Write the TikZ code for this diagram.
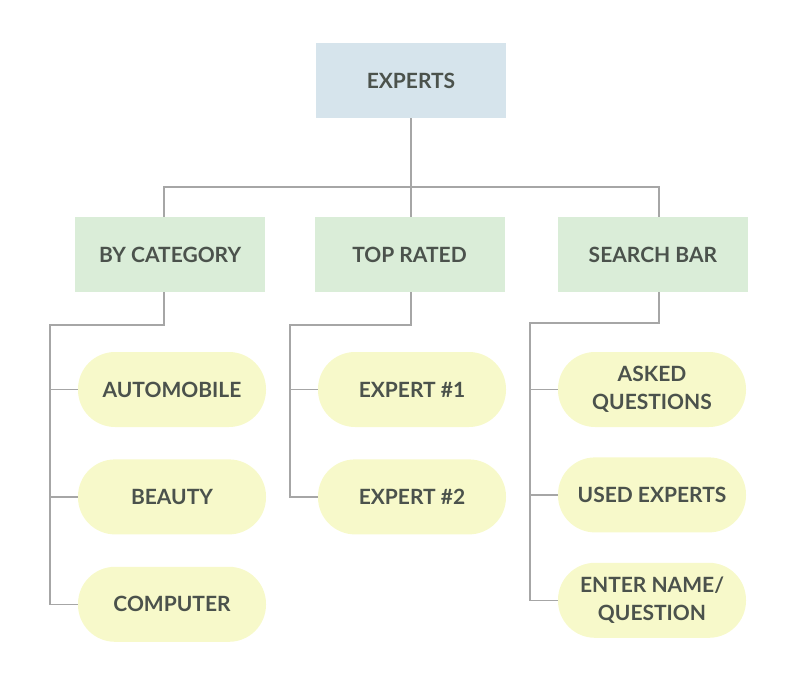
\documentclass[tikz,border=0pt]{standalone}
\usepackage{fontspec}
\setsansfont{Lato}
\usetikzlibrary{positioning, calc}
\definecolor{cblue}{HTML}{D6E4EC}
\definecolor{cgreen}{HTML}{DAEDD8}
\definecolor{cyellow}{HTML}{F7F9CA}
\definecolor{ctext}{HTML}{4B524C}
\definecolor{cline}{HTML}{A6A6A6}
\tikzset{
  every picture/.style={font=\sffamily\bfseries\fontsize{21}{28}\selectfont},
  box/.style={fill=#1, text=ctext, align=center, minimum width=190pt, minimum height=75pt, inner sep=0pt},
  box/.default=cgreen,
  pill/.style={fill=cyellow, text=ctext, align=center, rounded corners=37pt, minimum width=188pt, minimum height=75pt, inner sep=0pt},
  link/.style={draw=cline, line width=1.5pt},
}
\begin{document}
\begin{tikzpicture}[x=1pt, y=-1pt]
  \useasboundingbox (0,0) rectangle (804,696);
  % top
  \node[box=cblue] (root) at (411,80.5) {EXPERTS};
  % second row
  \node[box] (top) at (409.5,254.5) {TOP RATED};
  \node[box, left=49pt of top] (cat) {BY CATEGORY};
  \node[box, right=53pt of top] (search) {SEARCH BAR};
  % leaves
  \node[pill] (auto) at (172,389.5) {AUTOMOBILE};
  \node[pill, below=32pt of auto] (beauty) {BEAUTY};
  \node[pill, below=32pt of beauty] (comp) {COMPUTER};
  \node[pill] (exp1) at (412,389.5) {EXPERT \#1};
  \node[pill, below=32pt of exp1] (exp2) {EXPERT \#2};
  \node[pill] (asked) at (652,389.5) {ASKED\\QUESTIONS};
  \node[pill, below=30pt of asked] (used) {USED EXPERTS};
  \node[pill, below=30pt of used] (enter) {ENTER NAME/\\QUESTION};

  \coordinate (bus) at (411,187);
  \draw[link] (root.south) -- ([xshift=1.5pt]top.north);
  \draw[link] ([xshift=-6pt]cat.north) |- (bus) -| ([xshift=6pt]search.north);

  \draw[link] ([xshift=-6pt]cat.south) -- ++(0,33) -| ([xshift=-28pt]comp.west) -- (comp.west);
  \draw[link] (auto.west) -- ++(-28,0);
  \draw[link] (beauty.west) -- ++(-28,0);

  \draw[link] ([xshift=1.5pt]top.south) -- ++(0,33) -| ([xshift=-28pt]exp2.west) -- (exp2.west);
  \draw[link] (exp1.west) -- ++(-28,0);

  \draw[link] ([xshift=6pt]search.south) -- ++(0,31) -| ([xshift=-28pt]enter.west) -- (enter.west);
  \draw[link] (asked.west) -- ++(-28,0);
  \draw[link] (used.west) -- ++(-28,0);
\end{tikzpicture}
\end{document}
